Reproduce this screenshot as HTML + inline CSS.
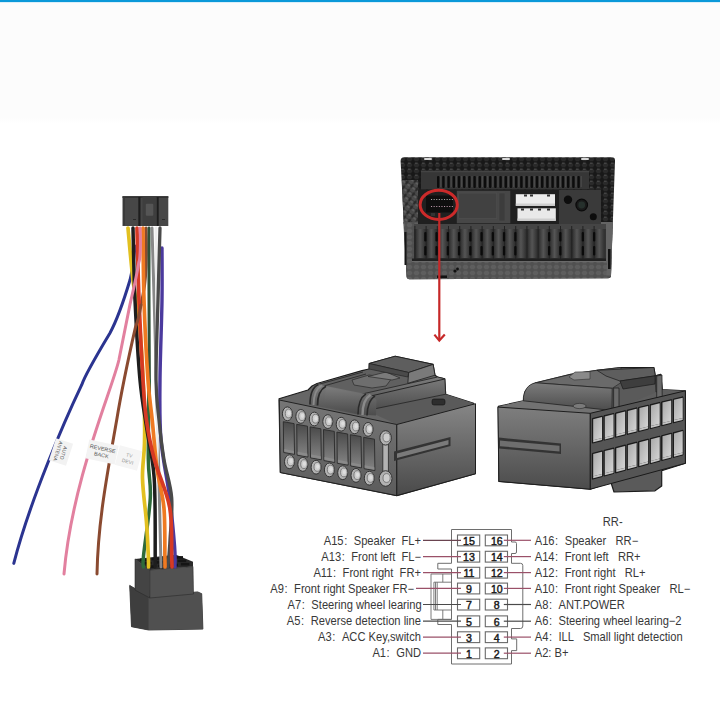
<!DOCTYPE html>
<html><head><meta charset="utf-8">
<style>
html,body{margin:0;padding:0;width:720px;height:720px;overflow:hidden;background:#fff;}
body{position:relative;font-family:"Liberation Sans",sans-serif;}
#top{position:absolute;left:0;top:0;width:720px;height:124px;background:linear-gradient(#fcfcfc 0,#fcfcfc 118px,#fff 124px);}
#bar{position:absolute;left:0;top:0;width:720px;height:2px;background:#0b99d9;box-shadow:0 0.5px 0.5px rgba(120,200,240,0.5);}
svg{position:absolute;left:0;top:0;}
.t{font-family:"Liberation Sans",sans-serif;font-size:12px;fill:#383838;}
.n{font-family:"Liberation Sans",sans-serif;font-size:10.6px;fill:#1a1a1a;stroke:#1a1a1a;stroke-width:0.45px;}
</style></head>
<body>
<div id="top"></div>
<div id="bar"></div>
<svg width="720" height="720" viewBox="0 0 720 720">
<path d="M135,246 C134,258 133,268 130,280 C124,300 118,318 110,333 C95,358 85,375 81.8,384.7 C65,420 30,500 13.8,563.4" fill="none" stroke="#2b3490" stroke-width="3.0" stroke-linecap="round" />
<polygon points="129.7,585.4 148.6,596.6 197.6,591.9 201.7,593.7 202.9,629.1 148.6,630 131.5,626.7" fill="#4a4a4a" stroke="#2a2a2a" stroke-width="0.8"/>
<polygon points="129.7,585.4 148.6,596.6 148.6,630 131.5,626.7" fill="#3e3e3e"/>
<polygon points="148.6,596.6 197.6,591.9 201.7,593.7 202.9,629.1 148.6,630" fill="#505050"/>
<polygon points="135,558.9 149.8,570 149.8,598 135,590" fill="#444" stroke="#2a2a2a" stroke-width="0.6"/>
<polygon points="149.8,570 193,566.5 193.5,594 149.8,598" fill="#525252" stroke="#2a2a2a" stroke-width="0.6"/>
<polygon points="135,558.9 176,554.7 193,561.8 193,566.5 149.8,570" fill="#2a2a2a"/>
<rect x="140.0" y="558.5" width="8.5" height="2.6" fill="#151515"/>
<rect x="151.5" y="557.7" width="8.5" height="2.6" fill="#151515"/>
<rect x="163.0" y="556.9" width="8.5" height="2.6" fill="#151515"/>
<rect x="174.5" y="556.1" width="8.5" height="2.6" fill="#151515"/>
<rect x="143.2" y="561.9" width="8.5" height="2.6" fill="#151515"/>
<rect x="154.7" y="561.1" width="8.5" height="2.6" fill="#151515"/>
<rect x="166.2" y="560.3" width="8.5" height="2.6" fill="#151515"/>
<rect x="177.7" y="559.5" width="8.5" height="2.6" fill="#151515"/>
<rect x="146.4" y="565.3" width="8.5" height="2.6" fill="#151515"/>
<rect x="157.9" y="564.5" width="8.5" height="2.6" fill="#151515"/>
<rect x="169.4" y="563.7" width="8.5" height="2.6" fill="#151515"/>
<rect x="180.9" y="562.9" width="8.5" height="2.6" fill="#151515"/>
<path d="M146,228 C147,260 146,280 143.3,293 C142,300 141.5,303 141,305" fill="none" stroke="#8a4a30" stroke-width="3.0" stroke-linecap="round" />
<path d="M149.0,228.0 C149.0,240.0 148.9,271.3 149.0,300.0 C149.1,328.7 149.4,383.3 149.5,400.0" fill="none" stroke="#2f5038" stroke-width="3.0" stroke-linecap="round" />
<path d="M149.0,380.0 C148.9,393.2 148.1,439.4 148.3,459.0 C148.5,478.6 151.1,481.6 150.3,497.8 C149.5,514.0 144.6,544.5 143.5,556.0 C142.4,567.5 143.5,565.2 143.5,567.0" fill="none" stroke="#2d6a3a" stroke-width="3.5" stroke-linecap="round" />
<path d="M128.0,228.0 C128.8,236.7 131.0,263.0 133.0,280.0 C135.0,297.0 138.2,310.0 140.0,330.0 C141.8,350.0 143.2,381.1 144.0,400.0 C144.8,418.9 144.8,430.2 144.5,443.3 C144.2,456.4 142.2,465.4 142.5,478.4 C142.8,491.4 145.4,508.3 146.4,521.2 C147.4,534.1 148.0,548.4 148.3,556.0 C148.7,563.6 148.5,565.2 148.5,567.0" fill="none" stroke="#e2c020" stroke-width="3.7" stroke-linecap="round" />
<path d="M152.0,228.0 C152.5,245.0 154.0,294.7 155.0,330.0 C156.0,365.3 157.0,400.5 158.0,440.0 C159.0,479.5 160.5,545.8 161.0,567.0" fill="none" stroke="#888888" stroke-width="3.0" stroke-linecap="round" />
<path d="M156.0,228.0 C156.2,245.0 156.8,298.0 157.0,330.0 C157.2,362.0 157.5,397.3 157.5,420.0 C157.5,442.7 157.1,458.3 157.0,466.0" fill="none" stroke="#eeeeee" stroke-width="3.0" stroke-linecap="round" />
<path d="M162.0,248.0 C162.0,256.7 162.3,278.0 162.0,300.0 C161.7,322.0 160.2,356.7 160.0,380.0 C159.8,403.3 159.4,420.4 161.0,440.0 C162.6,459.6 167.4,480.1 169.7,497.8 C172.0,515.5 173.7,535.0 174.6,546.5 C175.5,558.0 174.9,563.6 175.0,567.0" fill="none" stroke="#4b3a9e" stroke-width="3.4" stroke-linecap="round" />
<path d="M160.0,228.0 C159.7,240.0 158.7,274.7 158.0,300.0 C157.3,325.3 155.8,360.0 156.0,380.0 C156.2,400.0 157.7,406.8 159.0,420.0 C160.3,433.2 161.8,446.0 163.9,459.0 C166.0,472.0 170.7,484.3 171.7,497.8 C172.7,511.3 170.6,528.5 170.0,540.0 C169.4,551.5 168.3,562.5 168.0,567.0" fill="none" stroke="#4a4a4a" stroke-width="3.3" stroke-linecap="round" />
<path d="M133.0,228.0 C133.3,240.0 133.8,274.7 135.0,300.0 C136.2,325.3 138.0,358.3 140.0,380.0 C142.0,401.7 144.6,413.6 147.0,430.0 C149.4,446.4 152.8,457.4 154.2,478.4 C155.6,499.4 155.1,541.2 155.2,556.0 C155.3,570.8 155.0,565.2 155.0,567.0" fill="none" stroke="#1e1e1e" stroke-width="3.5" stroke-linecap="round" />
<path d="M143.0,228.0 C143.2,240.0 143.2,274.7 144.0,300.0 C144.8,325.3 146.6,360.0 148.0,380.0 C149.4,400.0 150.7,405.2 152.2,420.0 C153.7,434.8 155.1,454.0 157.0,468.6 C158.9,483.2 162.6,492.9 163.9,507.5 C165.2,522.1 164.7,546.1 164.9,556.0 C165.1,565.9 165.0,565.2 165.0,567.0" fill="none" stroke="#ef7a22" stroke-width="3.7" stroke-linecap="round" />
<path d="M137.0,228.0 C137.3,240.0 138.0,274.7 139.0,300.0 C140.0,325.3 141.8,360.0 143.0,380.0 C144.2,400.0 144.5,406.8 146.4,420.0 C148.3,433.2 150.3,444.4 154.2,459.0 C158.1,473.6 166.8,491.3 169.7,507.5 C172.6,523.7 171.3,546.1 171.7,556.0 C172.1,565.9 171.9,565.2 172.0,567.0" fill="none" stroke="#d63a24" stroke-width="3.7" stroke-linecap="round" />
<path d="M140,228 C141,245 140,260 138.9,262 C136,280 132,295 130,304.4 C126,325 122,345 118.9,360 C112,390 72,480 64,574" fill="none" stroke="#e2809f" stroke-width="3.0" stroke-linecap="round" />
<path d="M141,305 C139.5,315 137.5,322 135.6,326.7 C128,360 120,400 116.7,420 C108,470 98,520 97,574" fill="none" stroke="#8a4a30" stroke-width="3.0" stroke-linecap="round" />
<rect x="122.5" y="196.2" width="45.8" height="29.8" fill="#474747"/>
<rect x="122.5" y="196.2" width="45.8" height="1.8" fill="#333"/>
<rect x="138.3" y="197" width="2.2" height="29" fill="#1e1e1e"/>
<rect x="156.5" y="197" width="2.2" height="29" fill="#1e1e1e"/>
<rect x="142.5" y="197" width="14" height="29" fill="#3e3e3e"/>
<rect x="145.8" y="203.8" width="7.5" height="12" rx="1" fill="#555"/>
<rect x="123" y="197.5" width="2" height="28" fill="#3a3a3a"/>
<rect x="133" y="219" width="3" height="1" fill="#2a2a2a"/><rect x="162" y="219" width="3" height="1" fill="#2a2a2a"/>
<g transform="translate(61,452) rotate(18)"><rect x="-9" y="-11.5" width="18" height="23" fill="#f2f2f2"/><g transform="rotate(90)"><text x="0" y="-1" font-size="5" text-anchor="middle" fill="#555" font-family="Liberation Sans">AUTO</text><text x="0" y="5" font-size="5" text-anchor="middle" fill="#555" font-family="Liberation Sans">ANTENA</text></g></g>
<g transform="translate(102,452) rotate(12)"><rect x="-15" y="-9.5" width="30" height="19" fill="#f3f3f3"/><text x="0" y="-1.5" font-size="5.5" text-anchor="middle" fill="#555" font-family="Liberation Sans">REVERSE</text><text x="0" y="5" font-size="5.5" text-anchor="middle" fill="#555" font-family="Liberation Sans">BACK</text></g>
<g transform="translate(128.5,458) rotate(15)"><rect x="-11.5" y="-10" width="23" height="20" fill="#f5f5f5"/><text x="0" y="-1" font-size="5" text-anchor="middle" fill="#999" font-family="Liberation Sans">TV</text><text x="0" y="5.5" font-size="5" text-anchor="middle" fill="#999" font-family="Liberation Sans">DEVI</text></g>
<defs><pattern id="hex" width="7" height="6" patternUnits="userSpaceOnUse"><rect width="7" height="6" fill="#181818"/><path d="M0.5,3 L2,0.8 H5 L6.5,3 L5,5.2 H2 Z" fill="#2a2a2a"/><path d="M2,1.2 H4.6" stroke="#4e4e4e" stroke-width="1"/></pattern><pattern id="hex3" width="6" height="6" patternUnits="userSpaceOnUse" patternTransform="rotate(35)"><rect width="6" height="6" fill="#2a2a2a"/><path d="M0,3 L1.5,0.5 H4.5 L6,3 L4.5,5.5 H1.5 Z" fill="#4a4a4a"/><path d="M1.5,1 H4.5" stroke="#777" stroke-width="1"/></pattern><pattern id="hex2" width="7" height="6" patternUnits="userSpaceOnUse"><rect width="7" height="6" fill="#505050"/><path d="M0.5,3 L2,0.8 H5 L6.5,3 L5,5.2 H2 Z" fill="#5e5e5e"/></pattern><linearGradient id="fin" x1="0" x2="1" y1="0" y2="0"><stop offset="0" stop-color="#2a2a2a"/><stop offset="0.5" stop-color="#555"/><stop offset="1" stop-color="#303030"/></linearGradient></defs>
<path d="M404,157.2 H612 Q615,157.2 615,160.5 L611,275.5 Q611,278.3 608,278.3 L409.5,279.3 Q406.8,279.3 406.6,276.5 L400.6,161 Q400.6,157.2 404,157.2 Z" fill="url(#hex)"/>
<path d="M401.8,180 H418 V224 H403.6 Z" fill="url(#hex3)"/>
<rect x="424" y="158" width="8" height="2" rx="1" fill="#d8d8d8"/>
<rect x="502" y="158" width="8" height="2" rx="1" fill="#d8d8d8"/>
<rect x="581" y="158" width="8" height="2" rx="1" fill="#d8d8d8"/>
<path d="M403.3,222 H612.7 L611,275.5 Q611,278.3 608,278.3 L409.5,279.3 Q406.8,279.3 406.6,276.5 Z" fill="url(#hex2)"/>
<path d="M601,222 H612.7 L611,275.5 H601 Z" fill="#646464"/>
<rect x="608" y="249" width="2.6" height="20" fill="#111"/>
<rect x="404.5" y="232" width="2" height="33" fill="#151515"/>
<rect x="421" y="170.8" width="168" height="18.5" fill="#363636"/>
<rect x="421" y="170.8" width="168" height="1.5" fill="#444"/>
<rect x="437.0" y="176" width="2.4" height="12" rx="1" fill="#0c0c0c"/>
<rect x="440.2" y="176" width="1.2" height="11" fill="#4a4a4a"/>
<rect x="442.2" y="176" width="2.4" height="12" rx="1" fill="#0c0c0c"/>
<rect x="445.4" y="176" width="1.2" height="11" fill="#4a4a4a"/>
<rect x="447.4" y="176" width="2.4" height="12" rx="1" fill="#0c0c0c"/>
<rect x="450.6" y="176" width="1.2" height="11" fill="#4a4a4a"/>
<rect x="452.6" y="176" width="2.4" height="12" rx="1" fill="#0c0c0c"/>
<rect x="455.8" y="176" width="1.2" height="11" fill="#4a4a4a"/>
<rect x="457.8" y="176" width="2.4" height="12" rx="1" fill="#0c0c0c"/>
<rect x="461.0" y="176" width="1.2" height="11" fill="#4a4a4a"/>
<rect x="463.0" y="176" width="2.4" height="12" rx="1" fill="#0c0c0c"/>
<rect x="466.2" y="176" width="1.2" height="11" fill="#4a4a4a"/>
<rect x="468.2" y="176" width="2.4" height="12" rx="1" fill="#0c0c0c"/>
<rect x="471.4" y="176" width="1.2" height="11" fill="#4a4a4a"/>
<rect x="473.4" y="176" width="2.4" height="12" rx="1" fill="#0c0c0c"/>
<rect x="476.6" y="176" width="1.2" height="11" fill="#4a4a4a"/>
<rect x="478.6" y="176" width="2.4" height="12" rx="1" fill="#0c0c0c"/>
<rect x="481.8" y="176" width="1.2" height="11" fill="#4a4a4a"/>
<rect x="483.8" y="176" width="2.4" height="12" rx="1" fill="#0c0c0c"/>
<rect x="487.0" y="176" width="1.2" height="11" fill="#4a4a4a"/>
<rect x="489.0" y="176" width="2.4" height="12" rx="1" fill="#0c0c0c"/>
<rect x="492.2" y="176" width="1.2" height="11" fill="#4a4a4a"/>
<rect x="494.2" y="176" width="2.4" height="12" rx="1" fill="#0c0c0c"/>
<rect x="497.4" y="176" width="1.2" height="11" fill="#4a4a4a"/>
<rect x="499.4" y="176" width="2.4" height="12" rx="1" fill="#0c0c0c"/>
<rect x="502.6" y="176" width="1.2" height="11" fill="#4a4a4a"/>
<rect x="504.6" y="176" width="2.4" height="12" rx="1" fill="#0c0c0c"/>
<rect x="507.8" y="176" width="1.2" height="11" fill="#4a4a4a"/>
<rect x="509.8" y="176" width="2.4" height="12" rx="1" fill="#0c0c0c"/>
<rect x="513.0" y="176" width="1.2" height="11" fill="#4a4a4a"/>
<rect x="515.0" y="176" width="2.4" height="12" rx="1" fill="#0c0c0c"/>
<rect x="518.2" y="176" width="1.2" height="11" fill="#4a4a4a"/>
<rect x="520.2" y="176" width="2.4" height="12" rx="1" fill="#0c0c0c"/>
<rect x="523.4" y="176" width="1.2" height="11" fill="#4a4a4a"/>
<rect x="525.4" y="176" width="2.4" height="12" rx="1" fill="#0c0c0c"/>
<rect x="528.6" y="176" width="1.2" height="11" fill="#4a4a4a"/>
<rect x="530.6" y="176" width="2.4" height="12" rx="1" fill="#0c0c0c"/>
<rect x="533.8" y="176" width="1.2" height="11" fill="#4a4a4a"/>
<rect x="535.8" y="176" width="2.4" height="12" rx="1" fill="#0c0c0c"/>
<rect x="539.0" y="176" width="1.2" height="11" fill="#4a4a4a"/>
<rect x="541.0" y="176" width="2.4" height="12" rx="1" fill="#0c0c0c"/>
<rect x="544.2" y="176" width="1.2" height="11" fill="#4a4a4a"/>
<rect x="546.2" y="176" width="2.4" height="12" rx="1" fill="#0c0c0c"/>
<rect x="549.4" y="176" width="1.2" height="11" fill="#4a4a4a"/>
<rect x="551.4" y="176" width="2.4" height="12" rx="1" fill="#0c0c0c"/>
<rect x="554.6" y="176" width="1.2" height="11" fill="#4a4a4a"/>
<rect x="556.6" y="176" width="2.4" height="12" rx="1" fill="#0c0c0c"/>
<rect x="559.8" y="176" width="1.2" height="11" fill="#4a4a4a"/>
<rect x="561.8" y="176" width="2.4" height="12" rx="1" fill="#0c0c0c"/>
<rect x="565.0" y="176" width="1.2" height="11" fill="#4a4a4a"/>
<rect x="567.0" y="176" width="2.4" height="12" rx="1" fill="#0c0c0c"/>
<rect x="570.2" y="176" width="1.2" height="11" fill="#4a4a4a"/>
<rect x="572.2" y="176" width="2.4" height="12" rx="1" fill="#0c0c0c"/>
<rect x="575.4" y="176" width="1.2" height="11" fill="#4a4a4a"/>
<rect x="577.4" y="176" width="2.4" height="12" rx="1" fill="#0c0c0c"/>
<rect x="580.6" y="176" width="1.2" height="11" fill="#4a4a4a"/>
<rect x="418" y="189.5" width="183" height="35" fill="#202020"/>
<rect x="426" y="195.5" width="27" height="17" fill="#0e0e0e"/>
<rect x="431.0" y="199" width="1.1" height="1" fill="#aaa"/>
<rect x="431.0" y="206" width="1.1" height="1" fill="#b9a"/>
<rect x="433.6" y="199" width="1.1" height="1" fill="#aaa"/>
<rect x="433.6" y="206" width="1.1" height="1" fill="#b9a"/>
<rect x="436.2" y="199" width="1.1" height="1" fill="#aaa"/>
<rect x="436.2" y="206" width="1.1" height="1" fill="#b9a"/>
<rect x="438.8" y="199" width="1.1" height="1" fill="#aaa"/>
<rect x="438.8" y="206" width="1.1" height="1" fill="#b9a"/>
<rect x="441.4" y="199" width="1.1" height="1" fill="#aaa"/>
<rect x="441.4" y="206" width="1.1" height="1" fill="#b9a"/>
<rect x="444.0" y="199" width="1.1" height="1" fill="#aaa"/>
<rect x="444.0" y="206" width="1.1" height="1" fill="#b9a"/>
<rect x="446.6" y="199" width="1.1" height="1" fill="#aaa"/>
<rect x="446.6" y="206" width="1.1" height="1" fill="#b9a"/>
<rect x="449.2" y="199" width="1.1" height="1" fill="#aaa"/>
<rect x="449.2" y="206" width="1.1" height="1" fill="#b9a"/>
<rect x="451.8" y="199" width="1.1" height="1" fill="#aaa"/>
<rect x="451.8" y="206" width="1.1" height="1" fill="#b9a"/>
<rect x="431" y="213" width="4" height="3" fill="#333"/>
<rect x="456.8" y="190.8" width="53.5" height="32.5" fill="#474747"/>
<rect x="458.7" y="193" width="38" height="25.4" fill="#414141" stroke="#4e4e4e" stroke-width="0.8"/>
<rect x="499" y="193" width="6" height="28" fill="#3c3c3c" stroke="#4c4c4c" stroke-width="0.6"/>
<rect x="515.8" y="194.2" width="39.2" height="11.6" fill="#ececec"/>
<rect x="517.5" y="208.3" width="38.3" height="12.5" fill="#e9e9e9"/>
<rect x="515.8" y="203.5" width="39.2" height="2.3" fill="#cfcfcf"/>
<rect x="517.5" y="218.5" width="38.3" height="2.3" fill="#cfcfcf"/>
<rect x="524" y="194.5" width="3" height="2" fill="#333"/>
<rect x="530" y="194.5" width="3" height="2" fill="#333"/>
<rect x="547" y="194.5" width="3" height="2" fill="#333"/>
<rect x="521" y="208.5" width="3" height="2" fill="#333"/>
<rect x="530" y="208.5" width="3" height="2" fill="#333"/>
<rect x="538" y="208.5" width="3" height="2" fill="#333"/>
<rect x="547" y="208.5" width="3" height="2" fill="#333"/>
<rect x="559" y="190" width="42" height="35" fill="#3a3a3a"/>
<circle cx="568" cy="199.7" r="4.2" fill="#0d0d0d"/>
<circle cx="581.7" cy="205" r="5.8" fill="#1a1a1a" stroke="#0a0a0a" stroke-width="1.2"/>
<circle cx="581.7" cy="205" r="3.4" fill="#26302c"/>
<circle cx="593.3" cy="216.7" r="3.5" fill="#0d0d0d"/>
<rect x="414" y="224" width="192" height="36" fill="#333"/>
<rect x="414" y="224" width="192" height="5" fill="#454545"/>
<rect x="415.0" y="229" width="10.2" height="29" rx="2" fill="url(#fin)"/>
<rect x="414.4" y="226" width="1" height="33" fill="#222"/>
<rect x="426.2" y="229" width="10.2" height="29" rx="2" fill="url(#fin)"/>
<rect x="425.6" y="226" width="1" height="33" fill="#222"/>
<rect x="437.4" y="229" width="10.2" height="29" rx="2" fill="url(#fin)"/>
<rect x="436.8" y="226" width="1" height="33" fill="#222"/>
<rect x="448.6" y="229" width="10.2" height="29" rx="2" fill="url(#fin)"/>
<rect x="448.0" y="226" width="1" height="33" fill="#222"/>
<rect x="459.8" y="229" width="10.2" height="29" rx="2" fill="url(#fin)"/>
<rect x="459.2" y="226" width="1" height="33" fill="#222"/>
<rect x="471.0" y="229" width="10.2" height="29" rx="2" fill="url(#fin)"/>
<rect x="470.4" y="226" width="1" height="33" fill="#222"/>
<rect x="482.2" y="229" width="10.2" height="29" rx="2" fill="url(#fin)"/>
<rect x="481.6" y="226" width="1" height="33" fill="#222"/>
<rect x="493.4" y="229" width="10.2" height="29" rx="2" fill="url(#fin)"/>
<rect x="492.8" y="226" width="1" height="33" fill="#222"/>
<rect x="504.6" y="229" width="10.2" height="29" rx="2" fill="url(#fin)"/>
<rect x="504.0" y="226" width="1" height="33" fill="#222"/>
<rect x="515.8" y="229" width="10.2" height="29" rx="2" fill="url(#fin)"/>
<rect x="515.2" y="226" width="1" height="33" fill="#222"/>
<rect x="527.0" y="229" width="10.2" height="29" rx="2" fill="url(#fin)"/>
<rect x="526.4" y="226" width="1" height="33" fill="#222"/>
<rect x="538.2" y="229" width="10.2" height="29" rx="2" fill="url(#fin)"/>
<rect x="537.6" y="226" width="1" height="33" fill="#222"/>
<rect x="549.4" y="229" width="10.2" height="29" rx="2" fill="url(#fin)"/>
<rect x="548.8" y="226" width="1" height="33" fill="#222"/>
<rect x="560.6" y="229" width="10.2" height="29" rx="2" fill="url(#fin)"/>
<rect x="560.0" y="226" width="1" height="33" fill="#222"/>
<rect x="571.8" y="229" width="10.2" height="29" rx="2" fill="url(#fin)"/>
<rect x="571.2" y="226" width="1" height="33" fill="#222"/>
<rect x="583.0" y="229" width="10.2" height="29" rx="2" fill="url(#fin)"/>
<rect x="582.4" y="226" width="1" height="33" fill="#222"/>
<rect x="594.2" y="229" width="10.2" height="29" rx="2" fill="url(#fin)"/>
<rect x="593.6" y="226" width="1" height="33" fill="#222"/>
<rect x="424.2" y="232" width="2.3" height="9.5" rx="1.1" fill="#0a0a0a"/>
<rect x="424.2" y="246" width="2.3" height="9.5" rx="1.1" fill="#0a0a0a"/>
<rect x="435.4" y="232" width="2.3" height="9.5" rx="1.1" fill="#0a0a0a"/>
<rect x="435.4" y="246" width="2.3" height="9.5" rx="1.1" fill="#0a0a0a"/>
<rect x="446.7" y="232" width="2.3" height="9.5" rx="1.1" fill="#0a0a0a"/>
<rect x="446.7" y="246" width="2.3" height="9.5" rx="1.1" fill="#0a0a0a"/>
<rect x="457.9" y="232" width="2.3" height="9.5" rx="1.1" fill="#0a0a0a"/>
<rect x="457.9" y="246" width="2.3" height="9.5" rx="1.1" fill="#0a0a0a"/>
<rect x="469.2" y="232" width="2.3" height="9.5" rx="1.1" fill="#0a0a0a"/>
<rect x="469.2" y="246" width="2.3" height="9.5" rx="1.1" fill="#0a0a0a"/>
<rect x="480.4" y="232" width="2.3" height="9.5" rx="1.1" fill="#0a0a0a"/>
<rect x="480.4" y="246" width="2.3" height="9.5" rx="1.1" fill="#0a0a0a"/>
<rect x="491.7" y="232" width="2.3" height="9.5" rx="1.1" fill="#0a0a0a"/>
<rect x="491.7" y="246" width="2.3" height="9.5" rx="1.1" fill="#0a0a0a"/>
<rect x="502.9" y="232" width="2.3" height="9.5" rx="1.1" fill="#0a0a0a"/>
<rect x="502.9" y="246" width="2.3" height="9.5" rx="1.1" fill="#0a0a0a"/>
<rect x="514.2" y="232" width="2.3" height="9.5" rx="1.1" fill="#0a0a0a"/>
<rect x="514.2" y="246" width="2.3" height="9.5" rx="1.1" fill="#0a0a0a"/>
<rect x="548.0" y="232" width="2.3" height="9.5" rx="1.1" fill="#0a0a0a"/>
<rect x="548.0" y="246" width="2.3" height="9.5" rx="1.1" fill="#0a0a0a"/>
<rect x="559.2" y="232" width="2.3" height="9.5" rx="1.1" fill="#0a0a0a"/>
<rect x="559.2" y="246" width="2.3" height="9.5" rx="1.1" fill="#0a0a0a"/>
<rect x="581.7" y="232" width="2.3" height="9.5" rx="1.1" fill="#0a0a0a"/>
<rect x="581.7" y="246" width="2.3" height="9.5" rx="1.1" fill="#0a0a0a"/>
<rect x="593.0" y="232" width="2.3" height="9.5" rx="1.1" fill="#0a0a0a"/>
<rect x="593.0" y="246" width="2.3" height="9.5" rx="1.1" fill="#0a0a0a"/>
<rect x="412" y="258.5" width="194" height="2.5" fill="#202020"/>
<rect x="412" y="261" width="194" height="1.2" fill="#6a6a6a"/>
<path d="M410,262.2 H607 L606.5,275.5 Q606.5,277.5 604,277.5 L413,278.3 Q410.5,278.3 410.3,276 Z" fill="url(#hex2)"/>
<circle cx="455" cy="271" r="1.6" fill="#111"/><circle cx="457.5" cy="269" r="1.4" fill="#111"/>
<rect x="437" y="275.5" width="10" height="2.5" fill="#111"/>
<ellipse cx="438.7" cy="204.8" rx="18.6" ry="14.6" fill="none" stroke="#cc2a2a" stroke-width="3"/>
<line x1="439.3" y1="213" x2="439.3" y2="340" stroke="#c62828" stroke-width="2.2"/>
<path d="M434.4,334.6 L439.3,340.6 L444.8,334.6" fill="none" stroke="#c62828" stroke-width="2.2" stroke-linejoin="miter"/>
<defs><linearGradient id="cfr" x1="0" x2="0" y1="0" y2="1"><stop offset="0" stop-color="#767676"/><stop offset="1" stop-color="#5c5c5c"/></linearGradient><linearGradient id="crt" x1="0" x2="0" y1="0" y2="1"><stop offset="0" stop-color="#868686"/><stop offset="1" stop-color="#4a4a4a"/></linearGradient><linearGradient id="clf" x1="0" x2="0" y1="0" y2="1"><stop offset="0" stop-color="#7e7e7e"/><stop offset="1" stop-color="#4c4c4c"/></linearGradient><linearGradient id="ctop" x1="0" x2="0" y1="0" y2="1"><stop offset="0" stop-color="#7c7c7c"/><stop offset="1" stop-color="#4c4c4c"/></linearGradient><linearGradient id="slot" x1="0" x2="0" y1="0" y2="1"><stop offset="0" stop-color="#4a4a4a"/><stop offset="1" stop-color="#858585"/></linearGradient><linearGradient id="wslot" x1="0" x2="1" y1="0" y2="1"><stop offset="0" stop-color="#a8a8a8"/><stop offset="1" stop-color="#d6d6d6"/></linearGradient><radialGradient id="pin" cx="0.55" cy="0.55" r="0.6"><stop offset="0" stop-color="#eeeeee"/><stop offset="0.6" stop-color="#cccccc"/><stop offset="1" stop-color="#8a8a8a"/></radialGradient></defs>
<polygon points="279.0,398.7 308.0,390.0 312.0,386.0 317.0,383.5 362.0,370.6 369.0,369.0 369.2,363.5 395.2,356.2 433.1,364.4 435.0,375.2 437.6,377.0 444.8,378.8 445.7,394.2 473.7,403.2 475.5,473.7 396.8,495.6 280.3,472.5" fill="#666" stroke="#1c1c1c" stroke-width="1.1" stroke-linejoin="round"/>
<polygon points="317.0,384.0 362.0,371.5 369.0,370.0 409.0,373.0 408.0,383.0 437.0,377.5 367.0,398.0 326.0,388.0" fill="#606060"/>
<path d="M318,384.5 L363,372 M322,386.5 L366,374" stroke="#2a2a2a" stroke-width="0.9" fill="none"/>
<polygon points="352.0,380.0 369.0,375.0 392.0,378.0 386.0,386.0 372.0,388.0 354.0,385.0" fill="#6e6e6e" stroke="#2a2a2a" stroke-width="0.7"/>
<polygon points="368.0,376.5 386.0,372.0 400.0,378.0 392.0,380.0" fill="#7a7a7a" stroke="#2a2a2a" stroke-width="0.7"/>
<polygon points="367.0,410.4 445.7,394.2 473.7,403.2 396.8,424.5" fill="#5a5a5a"/>
<polygon points="362.0,394.0 437.6,377.0 444.8,378.8 445.7,394.2 367.2,410.4" fill="url(#ctop)" stroke="#222" stroke-width="0.8"/>
<path d="M363,397.8 L444.8,379" stroke="#262626" stroke-width="1" fill="none"/>
<rect x="432" y="399" width="13" height="6" rx="2" fill="#2e2e2e" stroke="#111" stroke-width="0.6"/>
<polygon points="309.0,404.4 312.0,390.0 317.5,384.0 326.0,386.0 362.0,393.3 371.0,394.5 376.5,400.0 376.0,415.6 357.8,414.4" fill="url(#ctop)"/>
<polygon points="326.0,387.0 362.0,394.0 358.0,413.5 324.0,405.8" fill="url(#ctop)"/>
<path d="M310,404.5 C310,395 313,387 318.5,384.5" stroke="#2a2a2a" stroke-width="1.6" fill="none"/>
<path d="M313.5,405 C313.5,396 316.5,388 322,385.3" stroke="#8a8a8a" stroke-width="2" fill="none"/>
<path d="M317.5,405.5 C317.5,396.5 320.5,389 326,386.2" stroke="#2a2a2a" stroke-width="1.8" fill="none"/>
<path d="M358,414.4 C358,405 361,397 366,393.8" stroke="#2a2a2a" stroke-width="1.6" fill="none"/>
<path d="M362.5,415 C362.5,406 365.5,398 370.5,394.8" stroke="#8a8a8a" stroke-width="2.4" fill="none"/>
<path d="M367,415.4 C367,407 370,399 375,396" stroke="#2a2a2a" stroke-width="1.6" fill="none"/>
<polygon points="369.2,363.5 395.2,356.2 433.1,364.4 408.7,372.5" fill="#5e5e5e" stroke="#1e1e1e" stroke-width="0.8"/>
<polygon points="408.7,372.5 433.1,364.4 435.0,375.2 407.8,383.3" fill="#7a7a7a" stroke="#1e1e1e" stroke-width="0.8"/>
<polygon points="369.2,363.5 408.7,372.5 407.8,377.0 369.0,369.0" fill="#4a4a4a" stroke="#1e1e1e" stroke-width="0.6"/>
<polygon points="279.3,400.0 396.8,424.5 396.8,495.6 280.3,472.5" fill="url(#cfr)" stroke="#222" stroke-width="1"/>
<polygon points="396.8,424.5 475.5,403.7 475.5,473.7 396.8,495.6" fill="url(#crt)" stroke="#1e1e1e" stroke-width="1"/>
<polygon points="394.0,451.5 450.5,437.0 450.5,446.0 394.0,461.0" fill="#333"/>
<polygon points="397.0,453.5 448.5,440.0 448.5,444.5 397.0,458.0" fill="#7a7a7a"/>
<polygon points="283.3,421.7 294.1,423.6 294.5,454.4 283.7,452.5" fill="url(#slot)" stroke="#2a2a2a" stroke-width="0.9"/>
<polygon points="284.3,449.0 293.8,450.9 294.1,453.3 284.3,451.5" fill="#8a8a8a"/>
<polygon points="296.7,424.3 307.5,426.2 307.9,457.1 297.1,455.2" fill="url(#slot)" stroke="#2a2a2a" stroke-width="0.9"/>
<polygon points="297.7,451.7 307.2,453.6 307.5,456.0 297.7,454.2" fill="#8a8a8a"/>
<polygon points="310.1,426.9 320.9,428.8 321.3,459.8 310.5,457.9" fill="url(#slot)" stroke="#2a2a2a" stroke-width="0.9"/>
<polygon points="311.1,454.4 320.6,456.3 320.9,458.7 311.1,456.9" fill="#8a8a8a"/>
<polygon points="323.5,429.5 334.3,431.4 334.7,462.5 323.9,460.6" fill="url(#slot)" stroke="#2a2a2a" stroke-width="0.9"/>
<polygon points="324.5,457.1 334.0,459.0 334.3,461.4 324.5,459.6" fill="#8a8a8a"/>
<polygon points="336.9,432.1 347.7,434.0 348.1,465.2 337.3,463.3" fill="url(#slot)" stroke="#2a2a2a" stroke-width="0.9"/>
<polygon points="337.9,459.8 347.4,461.7 347.7,464.1 337.9,462.3" fill="#8a8a8a"/>
<polygon points="350.3,434.7 361.1,436.6 361.5,467.9 350.7,466.0" fill="url(#slot)" stroke="#2a2a2a" stroke-width="0.9"/>
<polygon points="351.3,462.5 360.8,464.4 361.1,466.8 351.3,465.0" fill="#8a8a8a"/>
<polygon points="363.7,437.3 374.5,439.2 374.9,470.6 364.1,468.7" fill="url(#slot)" stroke="#2a2a2a" stroke-width="0.9"/>
<polygon points="364.7,465.2 374.2,467.1 374.5,469.5 364.7,467.7" fill="#8a8a8a"/>
<ellipse cx="287.4" cy="413.8" rx="5" ry="6.9" fill="#b2b2b2" stroke="#333" stroke-width="1"/>
<ellipse cx="288.6" cy="413.5" rx="3.3" ry="4.4" fill="#cdcdcd" stroke="#6a6a6a" stroke-width="0.8"/>
<ellipse cx="289.0" cy="413.2" rx="1.6" ry="2.1" fill="#dedede"/>
<ellipse cx="300.8" cy="416.4" rx="5" ry="6.9" fill="#b2b2b2" stroke="#333" stroke-width="1"/>
<ellipse cx="302.0" cy="416.1" rx="3.3" ry="4.4" fill="#cdcdcd" stroke="#6a6a6a" stroke-width="0.8"/>
<ellipse cx="302.4" cy="415.8" rx="1.6" ry="2.1" fill="#dedede"/>
<ellipse cx="314.3" cy="419.0" rx="5" ry="6.9" fill="#b2b2b2" stroke="#333" stroke-width="1"/>
<ellipse cx="315.5" cy="418.7" rx="3.3" ry="4.4" fill="#cdcdcd" stroke="#6a6a6a" stroke-width="0.8"/>
<ellipse cx="315.9" cy="418.4" rx="1.6" ry="2.1" fill="#dedede"/>
<ellipse cx="327.8" cy="421.6" rx="5" ry="6.9" fill="#b2b2b2" stroke="#333" stroke-width="1"/>
<ellipse cx="328.9" cy="421.3" rx="3.3" ry="4.4" fill="#cdcdcd" stroke="#6a6a6a" stroke-width="0.8"/>
<ellipse cx="329.4" cy="421.0" rx="1.6" ry="2.1" fill="#dedede"/>
<ellipse cx="341.2" cy="424.2" rx="5" ry="6.9" fill="#b2b2b2" stroke="#333" stroke-width="1"/>
<ellipse cx="342.4" cy="423.9" rx="3.3" ry="4.4" fill="#cdcdcd" stroke="#6a6a6a" stroke-width="0.8"/>
<ellipse cx="342.8" cy="423.6" rx="1.6" ry="2.1" fill="#dedede"/>
<ellipse cx="354.6" cy="426.8" rx="5" ry="6.9" fill="#b2b2b2" stroke="#333" stroke-width="1"/>
<ellipse cx="355.8" cy="426.5" rx="3.3" ry="4.4" fill="#cdcdcd" stroke="#6a6a6a" stroke-width="0.8"/>
<ellipse cx="356.2" cy="426.2" rx="1.6" ry="2.1" fill="#dedede"/>
<ellipse cx="368.1" cy="429.4" rx="5" ry="6.9" fill="#b2b2b2" stroke="#333" stroke-width="1"/>
<ellipse cx="369.3" cy="429.1" rx="3.3" ry="4.4" fill="#cdcdcd" stroke="#6a6a6a" stroke-width="0.8"/>
<ellipse cx="369.7" cy="428.8" rx="1.6" ry="2.1" fill="#dedede"/>
<ellipse cx="289.5" cy="461.7" rx="5" ry="6.9" fill="#b2b2b2" stroke="#333" stroke-width="1"/>
<ellipse cx="290.7" cy="461.4" rx="3.3" ry="4.4" fill="#cdcdcd" stroke="#6a6a6a" stroke-width="0.8"/>
<ellipse cx="291.1" cy="461.1" rx="1.6" ry="2.1" fill="#dedede"/>
<ellipse cx="302.8" cy="464.4" rx="5" ry="6.9" fill="#b2b2b2" stroke="#333" stroke-width="1"/>
<ellipse cx="304.0" cy="464.1" rx="3.3" ry="4.4" fill="#cdcdcd" stroke="#6a6a6a" stroke-width="0.8"/>
<ellipse cx="304.4" cy="463.8" rx="1.6" ry="2.1" fill="#dedede"/>
<ellipse cx="316.1" cy="467.2" rx="5" ry="6.9" fill="#b2b2b2" stroke="#333" stroke-width="1"/>
<ellipse cx="317.3" cy="466.9" rx="3.3" ry="4.4" fill="#cdcdcd" stroke="#6a6a6a" stroke-width="0.8"/>
<ellipse cx="317.7" cy="466.6" rx="1.6" ry="2.1" fill="#dedede"/>
<ellipse cx="329.4" cy="469.9" rx="5" ry="6.9" fill="#b2b2b2" stroke="#333" stroke-width="1"/>
<ellipse cx="330.6" cy="469.6" rx="3.3" ry="4.4" fill="#cdcdcd" stroke="#6a6a6a" stroke-width="0.8"/>
<ellipse cx="331.0" cy="469.3" rx="1.6" ry="2.1" fill="#dedede"/>
<ellipse cx="342.7" cy="472.7" rx="5" ry="6.9" fill="#b2b2b2" stroke="#333" stroke-width="1"/>
<ellipse cx="343.9" cy="472.4" rx="3.3" ry="4.4" fill="#cdcdcd" stroke="#6a6a6a" stroke-width="0.8"/>
<ellipse cx="344.3" cy="472.1" rx="1.6" ry="2.1" fill="#dedede"/>
<ellipse cx="356.0" cy="475.4" rx="5" ry="6.9" fill="#b2b2b2" stroke="#333" stroke-width="1"/>
<ellipse cx="357.2" cy="475.1" rx="3.3" ry="4.4" fill="#cdcdcd" stroke="#6a6a6a" stroke-width="0.8"/>
<ellipse cx="357.6" cy="474.8" rx="1.6" ry="2.1" fill="#dedede"/>
<ellipse cx="369.3" cy="478.2" rx="5" ry="6.9" fill="#b2b2b2" stroke="#333" stroke-width="1"/>
<ellipse cx="370.5" cy="477.9" rx="3.3" ry="4.4" fill="#cdcdcd" stroke="#6a6a6a" stroke-width="0.8"/>
<ellipse cx="370.9" cy="477.6" rx="1.6" ry="2.1" fill="#dedede"/>
<path d="M385.6,437.9 L385.6,478.5" stroke="#3a3a3a" stroke-width="6.5" stroke-linecap="round"/>
<path d="M385.6,437.9 L385.6,478.5" stroke="#b2b2b2" stroke-width="4.6" stroke-linecap="round"/>
<ellipse cx="385.6" cy="437.9" rx="5.8" ry="7.2" fill="#b2b2b2" stroke="#333" stroke-width="1"/>
<ellipse cx="386.6" cy="437.4" rx="3.6" ry="4.4" fill="#cdcdcd" stroke="#6a6a6a" stroke-width="0.8"/>
<ellipse cx="385.6" cy="478.5" rx="6.4" ry="7.8" fill="#b2b2b2" stroke="#333" stroke-width="1"/>
<ellipse cx="386.6" cy="478.0" rx="3.6" ry="4.4" fill="#cdcdcd" stroke="#6a6a6a" stroke-width="0.8"/>
<polygon points="498.3,406.4 523.3,400.8 525.0,392.0 530.0,386.0 535.8,382.8 570.6,374.4 597.0,370.3 620.6,367.5 653.9,367.5 655.3,375.8 660.8,374.4 662.2,389.7 685.4,390.8 685.4,463.3 661.7,470.8 661.7,486.0 655.0,490.8 614.0,492.0 610.8,482.0 590.3,489.2 498.9,481.4" fill="#5a5a5a" stroke="#1c1c1c" stroke-width="1.2" stroke-linejoin="round"/>
<polygon points="498.3,406.4 523.3,400.8 612.0,410.5 594.2,417.5" fill="#727272"/>
<polygon points="594.2,417.5 612.0,410.5 662.2,389.7 685.4,390.8" fill="#5e5e5e"/>
<polygon points="535.8,382.8 570.6,374.4 597.0,370.3 620.6,367.5 625.0,380.0 612.2,388.3" fill="#6a6a6a" stroke="#2a2a2a" stroke-width="0.7"/>
<path d="M523.3,400.8 C523,391 528,384 535.8,382.8 L612.2,388.3 L612,410.5 Z" fill="url(#ctop)" stroke="#222" stroke-width="0.8"/>
<polygon points="597.0,370.3 653.9,367.5 655.3,375.8 620.0,381.0 606.0,376.0" fill="#5e5e5e" stroke="#1a1a1a" stroke-width="0.7"/>
<polygon points="620.0,381.0 655.3,375.8 655.0,384.0 623.0,389.0" fill="#3e3e3e" stroke="#1a1a1a" stroke-width="0.7"/>
<polygon points="655.3,375.8 660.8,374.4 662.2,389.7 656.0,392.0" fill="#555" stroke="#1a1a1a" stroke-width="0.7"/>
<polygon points="569.0,377.0 575.0,372.0 590.0,371.7 590.0,379.0 574.0,380.0" fill="#8a8a8a" stroke="#333" stroke-width="0.6"/>
<ellipse cx="579.6" cy="406" rx="6.5" ry="2.6" fill="#7a7a7a" stroke="#2a2a2a" stroke-width="0.6"/>
<polygon points="613.6,388.0 619.0,388.0 619.0,414.0 613.6,415.5" fill="#6a6a6a" stroke="#1a1a1a" stroke-width="0.7"/>
<polygon points="656.7,376.0 662.0,375.0 662.2,396.5 656.7,398.0" fill="#6a6a6a" stroke="#1a1a1a" stroke-width="0.7"/>
<polygon points="497.9,407.1 590.3,413.3 590.3,489.2 498.9,481.4" fill="url(#clf)" stroke="#1e1e1e" stroke-width="1"/>
<polygon points="498.9,437.6 561.0,443.4 561.0,454.0 498.9,448.4" fill="#333"/>
<polygon points="500.0,440.5 559.5,445.8 559.5,451.5 500.0,446.2" fill="#6e6e6e"/>
<polygon points="590.3,413.3 685.4,390.8 685.4,463.3 590.3,489.2" fill="#555" stroke="#1a1a1a" stroke-width="1"/>
<polygon points="592.4,418.5 602.3,416.1 602.3,440.7 592.4,443.1" fill="#222" stroke="#111" stroke-width="0.8"/>
<polygon points="593.2,419.2 602.0,417.1 602.0,438.1 593.2,440.3" fill="url(#wslot)"/>
<polygon points="593.2,440.3 602.0,438.1 602.0,440.1 593.2,442.3" fill="#c4c4c4"/>
<polygon points="592.4,453.4 602.3,450.8 602.3,476.5 592.4,479.2" fill="#222" stroke="#111" stroke-width="0.8"/>
<polygon points="593.2,454.1 602.0,451.8 602.0,473.9 593.2,476.3" fill="url(#wslot)"/>
<polygon points="593.2,476.3 602.0,473.9 602.0,476.0 593.2,478.3" fill="#c4c4c4"/>
<polygon points="603.9,415.7 613.8,413.4 613.8,437.8 603.9,440.2" fill="#222" stroke="#111" stroke-width="0.8"/>
<polygon points="604.8,416.4 613.5,414.3 613.5,435.2 604.8,437.4" fill="url(#wslot)"/>
<polygon points="604.8,437.4 613.5,435.2 613.5,437.2 604.8,439.4" fill="#c4c4c4"/>
<polygon points="603.9,450.4 613.8,447.9 613.8,473.4 603.9,476.1" fill="#222" stroke="#111" stroke-width="0.8"/>
<polygon points="604.8,451.1 613.5,448.9 613.5,470.9 604.8,473.2" fill="url(#wslot)"/>
<polygon points="604.8,473.2 613.5,470.9 613.5,472.9 604.8,475.2" fill="#c4c4c4"/>
<polygon points="615.5,413.0 625.4,410.6 625.4,434.9 615.5,437.3" fill="#222" stroke="#111" stroke-width="0.8"/>
<polygon points="616.3,413.7 625.1,411.6 625.1,432.3 616.3,434.5" fill="url(#wslot)"/>
<polygon points="616.3,434.5 625.1,432.3 625.1,434.3 616.3,436.5" fill="#c4c4c4"/>
<polygon points="615.5,447.5 625.4,444.9 625.4,470.3 615.5,473.0" fill="#222" stroke="#111" stroke-width="0.8"/>
<polygon points="616.3,448.2 625.1,445.9 625.1,467.8 616.3,470.1" fill="url(#wslot)"/>
<polygon points="616.3,470.1 625.1,467.8 625.1,469.8 616.3,472.1" fill="#c4c4c4"/>
<polygon points="627.0,410.2 636.9,407.8 636.9,432.0 627.0,434.5" fill="#222" stroke="#111" stroke-width="0.8"/>
<polygon points="627.9,410.9 636.6,408.8 636.6,429.4 627.9,431.6" fill="url(#wslot)"/>
<polygon points="627.9,431.6 636.6,429.4 636.6,431.4 627.9,433.6" fill="#c4c4c4"/>
<polygon points="627.0,444.5 636.9,442.0 636.9,467.2 627.0,469.9" fill="#222" stroke="#111" stroke-width="0.8"/>
<polygon points="627.9,445.2 636.6,443.0 636.6,464.7 627.9,467.0" fill="url(#wslot)"/>
<polygon points="627.9,467.0 636.6,464.7 636.6,466.7 627.9,469.1" fill="#c4c4c4"/>
<polygon points="638.5,407.5 648.4,405.1 648.4,429.1 638.5,431.6" fill="#222" stroke="#111" stroke-width="0.8"/>
<polygon points="639.4,408.1 648.1,406.0 648.1,426.6 639.4,428.7" fill="url(#wslot)"/>
<polygon points="639.4,428.7 648.1,426.6 648.1,428.6 639.4,430.8" fill="#c4c4c4"/>
<polygon points="638.5,441.6 648.4,439.0 648.4,464.1 638.5,466.8" fill="#222" stroke="#111" stroke-width="0.8"/>
<polygon points="639.4,442.2 648.1,440.0 648.1,461.6 639.4,464.0" fill="url(#wslot)"/>
<polygon points="639.4,464.0 648.1,461.6 648.1,463.6 639.4,466.0" fill="#c4c4c4"/>
<polygon points="650.1,404.7 660.0,402.3 660.0,426.2 650.1,428.7" fill="#222" stroke="#111" stroke-width="0.8"/>
<polygon points="650.9,405.4 659.7,403.3 659.7,423.7 650.9,425.9" fill="url(#wslot)"/>
<polygon points="650.9,425.9 659.7,423.7 659.7,425.7 650.9,427.9" fill="#c4c4c4"/>
<polygon points="650.1,438.6 660.0,436.1 660.0,461.1 650.1,463.7" fill="#222" stroke="#111" stroke-width="0.8"/>
<polygon points="650.9,439.3 659.7,437.0 659.7,458.6 650.9,460.9" fill="url(#wslot)"/>
<polygon points="650.9,460.9 659.7,458.6 659.7,460.5 650.9,462.9" fill="#c4c4c4"/>
<polygon points="661.6,401.9 671.5,399.6 671.5,423.3 661.6,425.8" fill="#222" stroke="#111" stroke-width="0.8"/>
<polygon points="662.5,402.6 671.2,400.5 671.2,420.8 662.5,423.0" fill="url(#wslot)"/>
<polygon points="662.5,423.0 671.2,420.8 671.2,422.8 662.5,425.0" fill="#c4c4c4"/>
<polygon points="661.6,435.7 671.5,433.1 671.5,458.0 661.6,460.6" fill="#222" stroke="#111" stroke-width="0.8"/>
<polygon points="662.5,436.3 671.2,434.1 671.2,455.5 662.5,457.8" fill="url(#wslot)"/>
<polygon points="662.5,457.8 671.2,455.5 671.2,457.5 662.5,459.8" fill="#c4c4c4"/>
<polygon points="673.1,399.2 683.0,396.8 683.0,420.4 673.1,422.9" fill="#222" stroke="#111" stroke-width="0.8"/>
<polygon points="674.0,399.8 682.7,397.7 682.7,417.9 674.0,420.1" fill="url(#wslot)"/>
<polygon points="674.0,420.1 682.7,417.9 682.7,419.9 674.0,422.1" fill="#c4c4c4"/>
<polygon points="673.1,432.7 683.0,430.2 683.0,454.9 673.1,457.5" fill="#222" stroke="#111" stroke-width="0.8"/>
<polygon points="674.0,433.4 682.7,431.1 682.7,452.4 674.0,454.7" fill="url(#wslot)"/>
<polygon points="674.0,454.7 682.7,452.4 682.7,454.4 674.0,456.7" fill="#c4c4c4"/>
<g id="diagram">
<path d="M451.5,529.5 H511.5 V542 H515 Q516.5,542 516.5,543.5 V552 Q516.5,553.5 515,553.5 H511.5 V563.3 H520.5 Q522.8,563.3 522.8,565.6 V626 Q522.8,628.5 520.5,628.5 H511.5 V638.9 H516.7 V650.6 H511.5 V664 H451.5 V624.5 H437.8 V619.4 H451.5 V569 H437.8 V563.3 H451.5 Z" fill="none" stroke="#6e6e6e" stroke-width="1"/>
<path d="M451.5,574 H431 V619.4 H451.5 M442.8,574 V582.2 M433.9,610 V582.2 H451.5 M435.5,582.2 V610 M437.2,582.2 V610 M433.9,610 H451.5 M442.8,610 V619.4" fill="none" stroke="#6e6e6e" stroke-width="0.9"/>
<rect x="457.5" y="535.0" width="22.2" height="10.8" fill="#fff" stroke="#6a6a6a" stroke-width="1.1"/>
<rect x="485.3" y="535.0" width="22.2" height="10.8" fill="#fff" stroke="#6a6a6a" stroke-width="1.1"/>
<line x1="423.0" y1="540.3" x2="461" y2="540.3" stroke="#6a4450" stroke-width="1.2"/>
<line x1="503.8" y1="540.3" x2="531" y2="540.3" stroke="#9a5068" stroke-width="1.2"/>
<g transform="translate(469.0,544.9) scale(1.000,1)"><text class="n" x="0" y="0" text-anchor="middle" xml:space="preserve"><tspan dx="0.0">15</tspan></text></g>
<g transform="translate(496.8,544.9) scale(1.000,1)"><text class="n" x="0" y="0" text-anchor="middle" xml:space="preserve"><tspan dx="0.0">16</tspan></text></g>
<g transform="translate(421.0,544.5) scale(0.930,1)"><text class="t" x="0" y="0" text-anchor="end" xml:space="preserve"><tspan dx="0.0">A15</tspan><tspan dx="0.6">:</tspan><tspan dx="7.0">Speaker  FL+</tspan></text></g>
<g transform="translate(534.7,544.5) scale(0.930,1)"><text class="t" x="0" y="0" text-anchor="start" xml:space="preserve"><tspan dx="0.0">A16</tspan><tspan dx="0.6">:</tspan><tspan dx="7.0">Speaker   RR−</tspan></text></g>
<rect x="457.5" y="551.3" width="22.2" height="10.8" fill="#fff" stroke="#6a6a6a" stroke-width="1.1"/>
<rect x="485.3" y="551.3" width="22.2" height="10.8" fill="#fff" stroke="#6a6a6a" stroke-width="1.1"/>
<line x1="423.0" y1="556.6" x2="461" y2="556.6" stroke="#9a5068" stroke-width="1.2"/>
<line x1="503.8" y1="556.6" x2="531" y2="556.6" stroke="#9a5068" stroke-width="1.2"/>
<g transform="translate(469.0,561.2) scale(1.000,1)"><text class="n" x="0" y="0" text-anchor="middle" xml:space="preserve"><tspan dx="0.0">13</tspan></text></g>
<g transform="translate(496.8,561.2) scale(1.000,1)"><text class="n" x="0" y="0" text-anchor="middle" xml:space="preserve"><tspan dx="0.0">14</tspan></text></g>
<g transform="translate(421.0,560.8) scale(0.930,1)"><text class="t" x="0" y="0" text-anchor="end" xml:space="preserve"><tspan dx="0.0">A13</tspan><tspan dx="0.6">:</tspan><tspan dx="7.0">Front left  FL−</tspan></text></g>
<g transform="translate(534.7,560.8) scale(0.930,1)"><text class="t" x="0" y="0" text-anchor="start" xml:space="preserve"><tspan dx="0.0">A14</tspan><tspan dx="0.6">:</tspan><tspan dx="7.0">Front left   RR+</tspan></text></g>
<rect x="457.5" y="567.3" width="22.2" height="10.8" fill="#fff" stroke="#6a6a6a" stroke-width="1.1"/>
<rect x="485.3" y="567.3" width="22.2" height="10.8" fill="#fff" stroke="#6a6a6a" stroke-width="1.1"/>
<line x1="423.0" y1="572.6" x2="461" y2="572.6" stroke="#9a5068" stroke-width="1.2"/>
<line x1="503.8" y1="572.6" x2="531" y2="572.6" stroke="#9a5068" stroke-width="1.2"/>
<g transform="translate(469.0,577.2) scale(1.000,1)"><text class="n" x="0" y="0" text-anchor="middle" xml:space="preserve"><tspan dx="0.0">11</tspan></text></g>
<g transform="translate(496.8,577.2) scale(1.000,1)"><text class="n" x="0" y="0" text-anchor="middle" xml:space="preserve"><tspan dx="0.0">12</tspan></text></g>
<g transform="translate(421.0,576.8) scale(0.930,1)"><text class="t" x="0" y="0" text-anchor="end" xml:space="preserve"><tspan dx="0.0">A11</tspan><tspan dx="0.6">:</tspan><tspan dx="7.0">Front right  FR+</tspan></text></g>
<g transform="translate(534.7,576.8) scale(0.930,1)"><text class="t" x="0" y="0" text-anchor="start" xml:space="preserve"><tspan dx="0.0">A12</tspan><tspan dx="0.6">:</tspan><tspan dx="7.0">Front right   RL+</tspan></text></g>
<rect x="457.5" y="583.1" width="22.2" height="10.8" fill="#fff" stroke="#6a6a6a" stroke-width="1.1"/>
<rect x="485.3" y="583.1" width="22.2" height="10.8" fill="#fff" stroke="#6a6a6a" stroke-width="1.1"/>
<line x1="416.0" y1="588.4" x2="461" y2="588.4" stroke="#9a5068" stroke-width="1.2"/>
<line x1="503.8" y1="588.4" x2="531" y2="588.4" stroke="#9a5068" stroke-width="1.2"/>
<g transform="translate(469.0,593.0) scale(1.000,1)"><text class="n" x="0" y="0" text-anchor="middle" xml:space="preserve"><tspan dx="0.0">9</tspan></text></g>
<g transform="translate(496.8,593.0) scale(1.000,1)"><text class="n" x="0" y="0" text-anchor="middle" xml:space="preserve"><tspan dx="0.0">10</tspan></text></g>
<g transform="translate(414.0,592.6) scale(0.930,1)"><text class="t" x="0" y="0" text-anchor="end" xml:space="preserve"><tspan dx="0.0">A9</tspan><tspan dx="0.6">:</tspan><tspan dx="7.0">Front right Speaker FR−</tspan></text></g>
<g transform="translate(534.7,592.6) scale(0.930,1)"><text class="t" x="0" y="0" text-anchor="start" xml:space="preserve"><tspan dx="0.0">A10</tspan><tspan dx="0.6">:</tspan><tspan dx="7.0">Front right Speaker   RL−</tspan></text></g>
<rect x="457.5" y="599.2" width="22.2" height="10.8" fill="#fff" stroke="#6a6a6a" stroke-width="1.1"/>
<rect x="485.3" y="599.2" width="22.2" height="10.8" fill="#fff" stroke="#6a6a6a" stroke-width="1.1"/>
<line x1="423.0" y1="604.5" x2="461" y2="604.5" stroke="#4a4a4a" stroke-width="1.2"/>
<line x1="503.8" y1="604.5" x2="531" y2="604.5" stroke="#4a4a4a" stroke-width="1.2"/>
<g transform="translate(469.0,609.1) scale(1.000,1)"><text class="n" x="0" y="0" text-anchor="middle" xml:space="preserve"><tspan dx="0.0">7</tspan></text></g>
<g transform="translate(496.8,609.1) scale(1.000,1)"><text class="n" x="0" y="0" text-anchor="middle" xml:space="preserve"><tspan dx="0.0">8</tspan></text></g>
<g transform="translate(421.7,608.7) scale(0.930,1)"><text class="t" x="0" y="0" text-anchor="end" xml:space="preserve"><tspan dx="0.0">A7</tspan><tspan dx="0.6">:</tspan><tspan dx="7.0">Steering wheel learing</tspan></text></g>
<g transform="translate(534.7,608.7) scale(0.930,1)"><text class="t" x="0" y="0" text-anchor="start" xml:space="preserve"><tspan dx="0.0">A8</tspan><tspan dx="0.6">:</tspan><tspan dx="7.0">ANT.POWER</tspan></text></g>
<rect x="457.5" y="615.9" width="22.2" height="10.8" fill="#fff" stroke="#6a6a6a" stroke-width="1.1"/>
<rect x="485.3" y="615.9" width="22.2" height="10.8" fill="#fff" stroke="#6a6a6a" stroke-width="1.1"/>
<line x1="423.0" y1="621.2" x2="461" y2="621.2" stroke="#4a4a4a" stroke-width="1.2"/>
<line x1="503.8" y1="621.2" x2="531" y2="621.2" stroke="#4a4a4a" stroke-width="1.2"/>
<g transform="translate(469.0,625.8) scale(1.000,1)"><text class="n" x="0" y="0" text-anchor="middle" xml:space="preserve"><tspan dx="0.0">5</tspan></text></g>
<g transform="translate(496.8,625.8) scale(1.000,1)"><text class="n" x="0" y="0" text-anchor="middle" xml:space="preserve"><tspan dx="0.0">6</tspan></text></g>
<g transform="translate(421.0,625.4) scale(0.930,1)"><text class="t" x="0" y="0" text-anchor="end" xml:space="preserve"><tspan dx="0.0">A5</tspan><tspan dx="0.6">:</tspan><tspan dx="7.0">Reverse detection line</tspan></text></g>
<g transform="translate(534.7,625.4) scale(0.930,1)"><text class="t" x="0" y="0" text-anchor="start" xml:space="preserve"><tspan dx="0.0">A6</tspan><tspan dx="0.6">:</tspan><tspan dx="7.0">Steering wheel learing−2</tspan></text></g>
<rect x="457.5" y="631.8" width="22.2" height="10.8" fill="#fff" stroke="#6a6a6a" stroke-width="1.1"/>
<rect x="485.3" y="631.8" width="22.2" height="10.8" fill="#fff" stroke="#6a6a6a" stroke-width="1.1"/>
<line x1="423.0" y1="637.1" x2="461" y2="637.1" stroke="#9a5068" stroke-width="1.2"/>
<line x1="503.8" y1="637.1" x2="531" y2="637.1" stroke="#9a5068" stroke-width="1.2"/>
<g transform="translate(469.0,641.7) scale(1.000,1)"><text class="n" x="0" y="0" text-anchor="middle" xml:space="preserve"><tspan dx="0.0">3</tspan></text></g>
<g transform="translate(496.8,641.7) scale(1.000,1)"><text class="n" x="0" y="0" text-anchor="middle" xml:space="preserve"><tspan dx="0.0">4</tspan></text></g>
<g transform="translate(421.0,641.3) scale(0.930,1)"><text class="t" x="0" y="0" text-anchor="end" xml:space="preserve"><tspan dx="0.0">A3</tspan><tspan dx="0.6">:</tspan><tspan dx="7.0">ACC Key,switch</tspan></text></g>
<g transform="translate(534.7,641.3) scale(0.930,1)"><text class="t" x="0" y="0" text-anchor="start" xml:space="preserve"><tspan dx="0.0">A4</tspan><tspan dx="0.6">:</tspan><tspan dx="7.0">ILL   Small light detection</tspan></text></g>
<rect x="457.5" y="647.9" width="22.2" height="10.8" fill="#fff" stroke="#6a6a6a" stroke-width="1.1"/>
<rect x="485.3" y="647.9" width="22.2" height="10.8" fill="#fff" stroke="#6a6a6a" stroke-width="1.1"/>
<line x1="423.0" y1="653.2" x2="461" y2="653.2" stroke="#9a5068" stroke-width="1.2"/>
<line x1="503.8" y1="653.2" x2="531" y2="653.2" stroke="#9a5068" stroke-width="1.2"/>
<g transform="translate(469.0,657.8) scale(1.000,1)"><text class="n" x="0" y="0" text-anchor="middle" xml:space="preserve"><tspan dx="0.0">1</tspan></text></g>
<g transform="translate(496.8,657.8) scale(1.000,1)"><text class="n" x="0" y="0" text-anchor="middle" xml:space="preserve"><tspan dx="0.0">2</tspan></text></g>
<g transform="translate(421.0,657.4) scale(0.930,1)"><text class="t" x="0" y="0" text-anchor="end" xml:space="preserve"><tspan dx="0.0">A1</tspan><tspan dx="0.6">:</tspan><tspan dx="7.0">GND</tspan></text></g>
<g transform="translate(534.7,657.4) scale(0.930,1)"><text class="t" x="0" y="0" text-anchor="start" xml:space="preserve"><tspan dx="0.0">A2: B+</tspan></text></g>
<g transform="translate(602.8,525.8) scale(0.930,1)"><text class="t" x="0" y="0" text-anchor="start" xml:space="preserve"><tspan dx="0.0">RR-</tspan></text></g>
</g>
</svg>
</body></html>
